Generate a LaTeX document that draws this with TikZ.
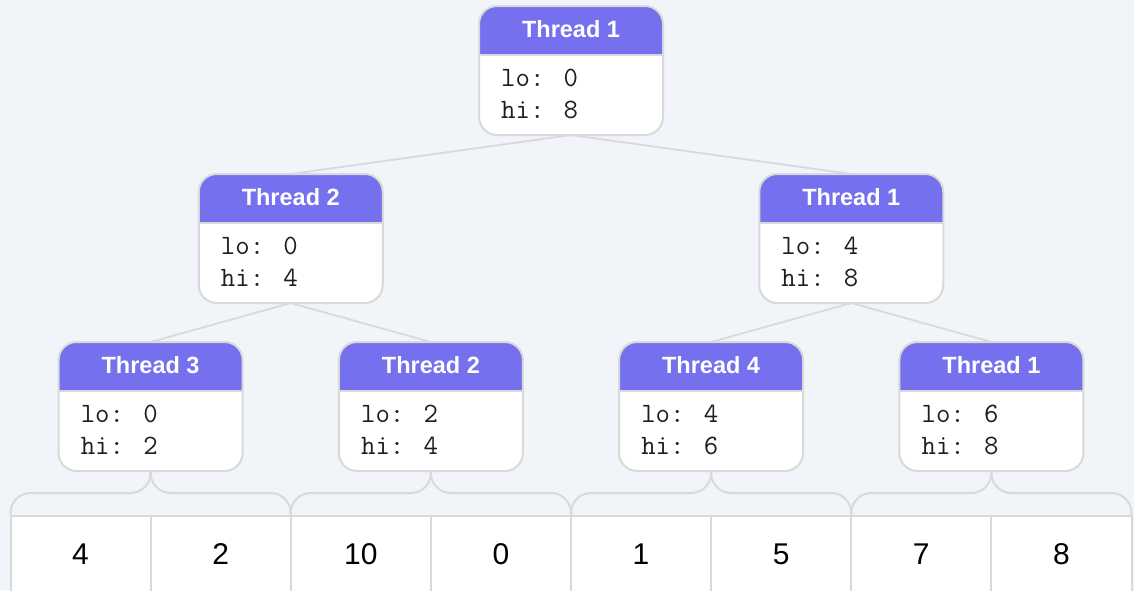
\documentclass[tikz,border=0pt]{standalone}
\usepackage{fontspec}
\setmainfont{Liberation Sans}
\usetikzlibrary{backgrounds,calc}

\definecolor{canvas}{HTML}{F1F4F9}
\definecolor{rim}{HTML}{D9D9D9}
\definecolor{headfill}{HTML}{7570EE}
\definecolor{ink}{HTML}{1E1E1E}

\tikzset{
  threadbox/.style={draw=rim, line width=2pt, fill=white, rounded corners=18pt,
    minimum width=184pt, minimum height=129pt, inner sep=0pt, outer sep=0pt,
    path picture={\fill[headfill, sharp corners] (path picture bounding box.north west)
      rectangle ([yshift=-49pt]path picture bounding box.north east);}},
  headlabel/.style={text=white, font=\bfseries\fontsize{23.5}{28}\selectfont, inner sep=0pt},
  codeline/.style={text=ink, font=\ttfamily\fontsize{28}{32}\selectfont, inner sep=0pt, anchor=base west},
  cell/.style={draw=rim, line width=2pt, fill=white, minimum width=140.125pt,
    minimum height=76pt, inner sep=0pt, outer sep=0pt, text=black,
    font=\fontsize{30}{36}\selectfont},
  link/.style={draw=rim, line width=1.8pt},
  brace/.style={draw=rim, line width=2pt, rounded corners=20pt},
}

% a thread card: name, centre x, top y, title, lo, hi
\newcommand\threadcard[6]{%
  \node[threadbox] (#1) at (#2,#3+65.5) {};
  \draw[rim, line width=2pt] ([yshift=-49pt]#1.north west) -- ([yshift=-49pt]#1.north east);
  \node[headlabel, anchor=base] (#1-title) at ([yshift=-31.5pt]#1.north) {#4};
  \node[codeline] (#1-lo) at ([xshift=22pt,yshift=-80pt]#1.north west) {lo: #5};
  \node[codeline] (#1-hi) at ([xshift=22pt,yshift=-112pt]#1.north west) {hi: #6};
}

\begin{document}
\begin{tikzpicture}[x=1pt, y=-1pt]
  \useasboundingbox (0,0) rectangle (1134,590);
  \begin{scope}[on background layer]
    \fill[canvas] (0,0) rectangle (1134,590);
  \end{scope}

  % recursion tree
  \threadcard{ta}{571}{5}{Thread 1}{0}{8}
  \threadcard{tb}{290.75}{173}{Thread 2}{0}{4}
  \threadcard{tc}{851.25}{173}{Thread 1}{4}{8}
  \threadcard{td}{150.6}{341}{Thread 3}{0}{2}
  \threadcard{te}{430.9}{341}{Thread 2}{2}{4}
  \threadcard{tf}{711.1}{341}{Thread 4}{4}{6}
  \threadcard{tg}{991.4}{341}{Thread 1}{6}{8}

  % the array
  \foreach \v [count=\i] in {4,2,10,0,1,5,7,8}
    \node[cell] (c\i) at ({10.5+140.125*(\i-0.5)}, 554) {\v};

  % links between the cards
  \begin{scope}[on background layer]
    \draw[link] (ta.south) -- (tb.north);
    \draw[link] (ta.south) -- (tc.north);
    \draw[link] (tb.south) -- (td.north);
    \draw[link] (tb.south) -- (te.north);
    \draw[link] (tc.south) -- (tf.north);
    \draw[link] (tc.south) -- (tg.north);
  \end{scope}

  % braces from each leaf card to its pair of cells
  \foreach \t/\l/\r in {td/c1/c2, te/c3/c4, tf/c5/c6, tg/c7/c8} {
    \draw[brace] (\l.north west) |- ($(\t.south)+(0,22)$) -- (\t.south);
    \draw[brace] (\r.north east) |- ($(\t.south)+(0,22)$) -- (\t.south);
  }
\end{tikzpicture}
\end{document}
